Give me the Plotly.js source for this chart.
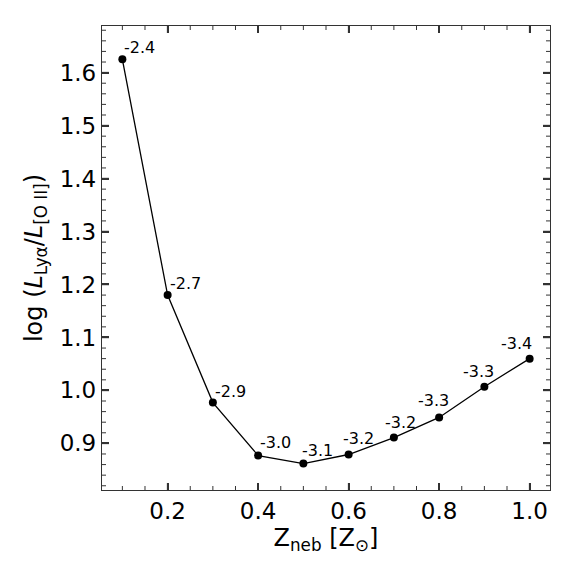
<!DOCTYPE html>
<html>
<head>
<meta charset="utf-8">
<script src="https://cdn.plot.ly/plotly-3.0.1.min.js"></script>
<style>
  html, body { margin: 0; padding: 0; background: #fff; }
  #plot { width: 576px; height: 576px; }
</style>
</head>
<body>
<div id="plot"></div>
<script>
// metallicity of the nebula, in solar units
const zNeb = [0.1, 0.2, 0.3, 0.4, 0.5, 0.6, 0.7, 0.8, 0.9, 1.0];
// log(L_Lya / L_[OII])
const logRatio = [1.625, 1.180, 0.977, 0.877, 0.862, 0.879, 0.911, 0.949, 1.007, 1.060];
// labels written next to each point
const pointLabels = ["-2.4", "-2.7", "-2.9", "-3.0", "-3.1", "-3.2", "-3.2", "-3.3", "-3.3", "-3.4"];

const font = "DejaVu Sans, sans-serif";
const tickCol = "#333";

const trace = {
  x: zNeb,
  y: logRatio,
  mode: "lines+markers",
  line: { color: "black", width: 1.3 },
  marker: { color: "black", size: 8 },
  showlegend: false,
  hoverinfo: "x+y",
};

// label offsets (px) drift left as the curve climbs
const shiftX = [0, 0, 0, 0, -3, -8, -11, -23, -23, -31];
const shiftY = [0, 0, 0, 2, 2, 5, 4, 5, 4, 4];

const annotations = zNeb.map((x, i) => ({
  x: x,
  y: logRatio[i],
  text: pointLabels[i],
  showarrow: false,
  xanchor: "left",
  yanchor: "bottom",
  xshift: shiftX[i],
  yshift: shiftY[i],
  font: { family: font, size: 16, color: "black" },
}));

// inside ticks on all four sides (major + minor), pinned to the axes in pixels
const shapes = [];
function xTick(v, len, w) {
  [[0, len], [1, -len]].forEach(([anchor, l]) => {
    shapes.push({ type: "line", xref: "x", yref: "paper", ysizemode: "pixel", yanchor: anchor,
      x0: v, x1: v, y0: 0, y1: l, line: { color: tickCol, width: w } });
  });
}
function yTick(v, len, w) {
  [[0, len], [1, -len]].forEach(([anchor, l]) => {
    shapes.push({ type: "line", xref: "paper", yref: "y", xsizemode: "pixel", xanchor: anchor,
      x0: 0, x1: l, y0: v, y1: v, line: { color: tickCol, width: w } });
  });
}
for (let k = 2; k <= 20; k++) {
  const major = k % 4 === 0;
  xTick(k * 0.05, major ? 7 : 4, major ? 1.5 : 1);
}
for (let k = 41; k <= 84; k++) {
  const major = k % 5 === 0;
  yTick(k * 0.02, major ? 7 : 4, major ? 1.5 : 1);
}

const layout = {
  width: 576,
  height: 576,
  margin: { l: 102, r: 26, t: 26, b: 86 },
  paper_bgcolor: "white",
  plot_bgcolor: "white",
  font: { family: font, color: "black" },
  xaxis: {
    showgrid: false,
    zeroline: false,
    showline: true,
    linecolor: tickCol,
    linewidth: 1.3,
    mirror: "allticks",
    ticks: "inside",
    ticklen: 7,
    tickwidth: 1.5,
    tickcolor: tickCol,
    tickfont: { family: font, size: 23, color: "black" },
    range: [0.055, 1.045],
    dtick: 0.2,
    tick0: 0,
    tickformat: ".1f",
    title: { text: "Z<sub>neb</sub> [Z<sub>⊙</sub>]", font: { family: font, size: 24 }, standoff: 2 },
  },
  yaxis: {
    showgrid: false,
    zeroline: false,
    showline: true,
    linecolor: tickCol,
    linewidth: 1.3,
    mirror: "allticks",
    ticks: "inside",
    ticklen: 7,
    tickwidth: 1.5,
    tickcolor: tickCol,
    tickfont: { family: font, size: 23, color: "black" },
    range: [0.812, 1.688],
    dtick: 0.1,
    tick0: 0,
    tickformat: ".1f",
    title: {
      text: "log (<i>L</i><sub>Lyα</sub>/<i>L</i><sub>[O II]</sub>)",
      font: { family: font, size: 24 },
      standoff: 10,
    },
  },
  shapes: shapes,
  annotations: annotations,
};

Plotly.newPlot("plot", [trace], layout, { displayModeBar: false });
</script>
</body>
</html>
